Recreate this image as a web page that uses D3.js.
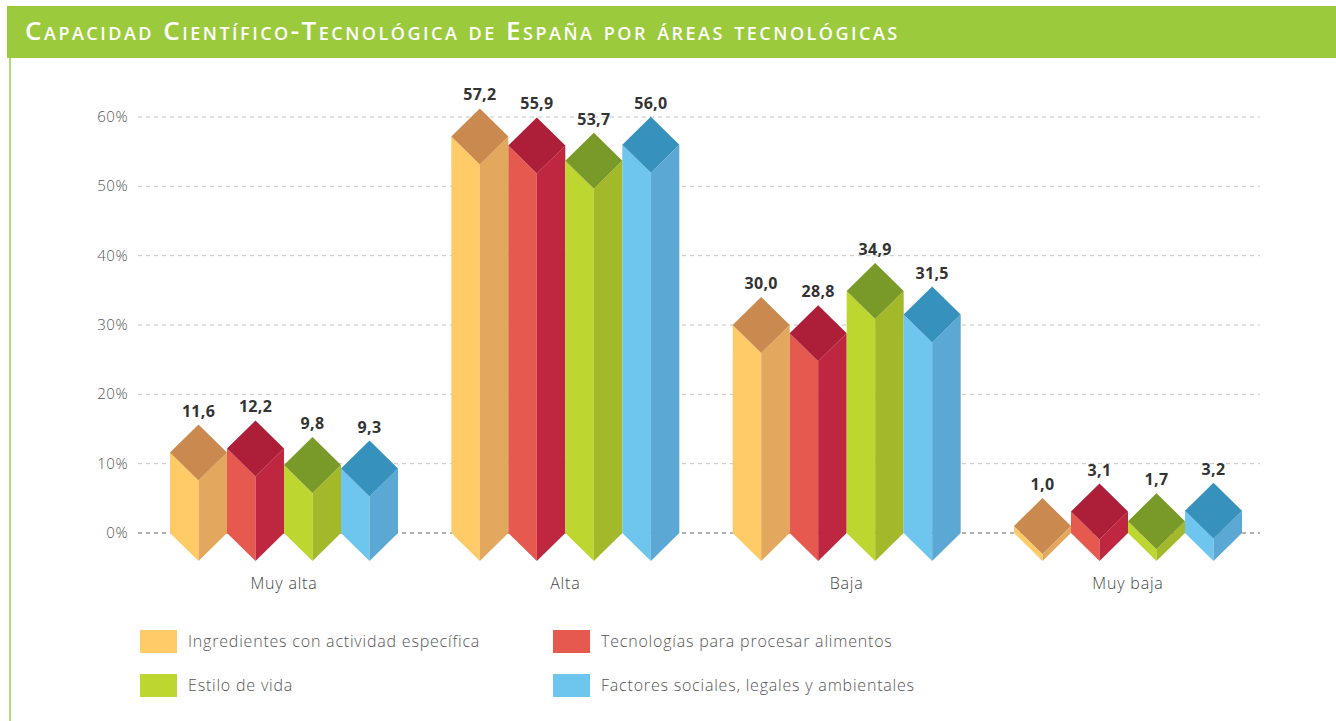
<!DOCTYPE html>
<html>
<head>
<meta charset="utf-8">
<script src="https://cdn.jsdelivr.net/npm/d3@7"></script>
<style>
  body { margin: 0; background: #fff; }
  svg { display: block; font-family: "Open Sans", Lato, sans-serif; }
</style>
</head>
<body>
<div id="chart"></div>
<script>
// Data
const categories = ["Muy alta", "Alta", "Baja", "Muy baja"];
const seriesNames = [
  "Ingredientes con actividad específica",
  "Tecnologías para procesar alimentos",
  "Estilo de vida",
  "Factores sociales, legales y ambientales"
];
const ingredientes = [11.6, 57.2, 30.0, 1.0];
const tecnologias = [12.2, 55.9, 28.8, 3.1];
const estiloVida = [9.8, 53.7, 34.9, 1.7];
const factores = [9.3, 56.0, 31.5, 3.2];
const yTicks = [0, 10, 20, 30, 40, 50, 60];

const seriesValues = [ingredientes, tecnologias, estiloVida, factores];

// face colours: left, right, top
const palette = [
  { left: "#fecb66", right: "#e3a85d", top: "#ca894e" },
  { left: "#e5594f", right: "#bf263f", top: "#ad1f38" },
  { left: "#bed630", right: "#a3b92a", top: "#799a28" },
  { left: "#6ec5ee", right: "#5aa8d3", top: "#3791bd" }
];

const width = 1336;
const height = 721;

const svg = d3.select("#chart")
  .append("svg")
  .attr("width", width)
  .attr("height", height);

// header
svg.append("rect")
  .attr("x", 7).attr("y", 6)
  .attr("width", width - 7).attr("height", 52)
  .attr("fill", "#9bcb3c");
svg.append("rect")
  .attr("x", 9).attr("y", 58)
  .attr("width", 2).attr("height", height - 58)
  .attr("fill", "#b9db80");
svg.append("text")
  .attr("x", 25).attr("y", 40)
  .attr("fill", "#fff")
  .style("font-size", "26px")
  .style("letter-spacing", "2.5px")
  .style("font-variant", "small-caps")
  .style("font-weight", 600)
  .text("Capacidad Científico-Tecnológica de España por áreas tecnológicas");

// scales
const y = d3.scaleLinear().domain([0, 60]).range([533, 117]);
const x = d3.scalePoint().domain(categories).range([284, 1128]);
const inner = d3.scaleBand().domain(seriesNames).range([-114, 114]).padding(0);
const depth = 28;

const fmt = d3.formatLocale({ decimal: ",", thousands: "." }).format(".1f");

// grid + y labels
const grid = svg.append("g");
yTicks.forEach(function(t) {
  grid.append("line")
    .attr("x1", 138).attr("x2", 1260)
    .attr("y1", y(t)).attr("y2", y(t))
    .attr("stroke", t === 0 ? "#666" : "#c4c4c4")
    .attr("stroke-width", 1)
    .attr("stroke-dasharray", "4,4");
  grid.append("text")
    .attr("x", 128).attr("y", y(t) + 5)
    .attr("text-anchor", "end")
    .attr("fill", "#555")
    .style("font-size", "15px")
    .style("font-weight", 300)
    .style("letter-spacing", "0.5px")
    .text(t + "%");
});

// bars
const bars = svg.append("g");
categories.forEach(function(cat, ci) {
  seriesNames.forEach(function(name, si) {
    const v = seriesValues[si][ci];
    const x0 = x(cat) + inner(name);
    const w = inner.bandwidth();
    const xc = x0 + w / 2;
    const x1 = x0 + w;
    const yv = y(v);
    const y0 = y(0);
    const c = palette[si];
    const g = bars.append("g");
    g.append("path")
      .attr("d", `M${x0},${yv}L${xc},${yv + depth}L${xc},${y0 + depth}L${x0},${y0}Z`)
      .attr("fill", c.left);
    g.append("path")
      .attr("d", `M${xc},${yv + depth}L${x1},${yv}L${x1},${y0}L${xc},${y0 + depth}Z`)
      .attr("fill", c.right);
    g.append("path")
      .attr("d", `M${x0},${yv}L${xc},${yv - depth}L${x1},${yv}L${xc},${yv + depth}Z`)
      .attr("fill", c.top);
    g.append("text")
      .attr("x", xc).attr("y", yv - depth - 8)
      .attr("text-anchor", "middle")
      .attr("fill", "#333")
      .style("font-size", "16px")
      .style("font-weight", 700)
      .style("letter-spacing", "0.3px")
      .text(fmt(v));
  });
  svg.append("text")
    .attr("x", x(cat)).attr("y", 589)
    .attr("text-anchor", "middle")
    .attr("fill", "#444")
    .style("font-size", "16px")
    .style("font-weight", 300)
    .style("letter-spacing", "0.8px")
    .text(cat);
});

// legend
const legendPos = [[140, 630], [553, 630], [140, 674], [553, 674]];
seriesNames.forEach(function(name, i) {
  const lg = svg.append("g").attr("transform", `translate(${legendPos[i][0]},${legendPos[i][1]})`);
  lg.append("rect")
    .attr("width", 37).attr("height", 23)
    .attr("fill", palette[i].left);
  lg.append("text")
    .attr("x", 48).attr("y", 17)
    .attr("fill", "#555")
    .style("font-size", "16px")
    .style("font-weight", 300)
    .style("letter-spacing", "0.8px")
    .text(name);
});
</script>
</body>
</html>
